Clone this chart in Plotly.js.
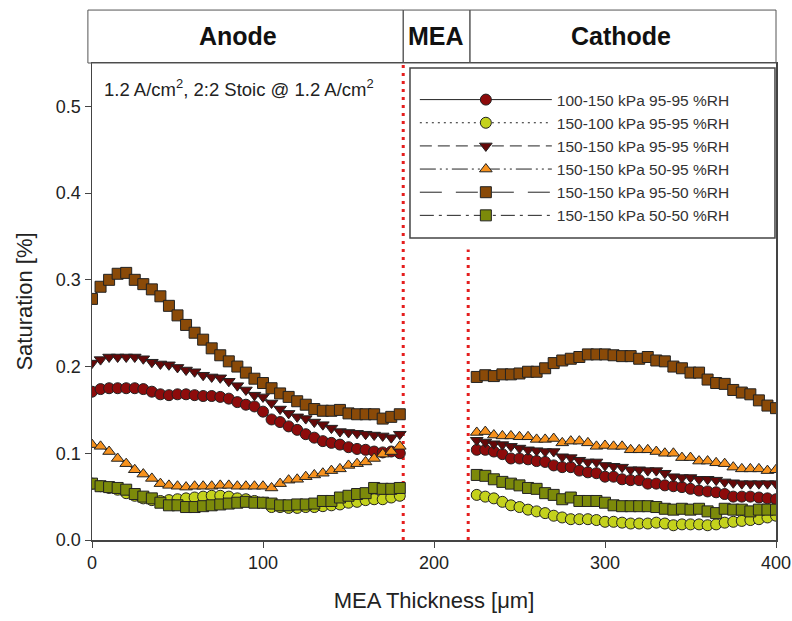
<!DOCTYPE html>
<html>
<head>
<meta charset="utf-8">
<script src="https://cdn.plot.ly/plotly-3.0.1.min.js"></script>
<style>html,body{margin:0;padding:0;background:#fff;}#chart{width:792px;height:621px;}</style>
</head>
<body>
<div id="chart"></div>
<script>
// Positions across the MEA (µm)
const anodeX = [0,5,10,15,20,25,30,35,40,45,50,55,60,65,70,75,80,85,90,95,100,105,110,115,120,125,130,135,140,145,150,155,160,165,170,175,180];
const cathodeX = [225,230,235,240,245,250,255,260,265,270,275,280,285,290,295,300,305,310,315,320,325,330,335,340,345,350,355,360,365,370,375,380,385,390,395,400];

const seriesNames = [
  "100-150 kPa 95-95 %RH",
  "150-100 kPa 95-95 %RH",
  "150-150 kPa 95-95 %RH",
  "150-150 kPa 50-95 %RH",
  "150-150 kPa 95-50 %RH",
  "150-150 kPa 50-50 %RH"
];

// 100-150 kPa 95-95 %RH
const s1Anode = [.171,.174,.175,.175,.175,.175,.174,.171,.168,.167,.168,.168,.167,.166,.166,.165,.163,.159,.156,.154,.148,.139,.136,.131,.127,.122,.118,.114,.112,.110,.107,.105,.104,.102,.101,.102,.100];
const s1Cathode = [.104,.104,.102,.099,.094,.094,.093,.091,.090,.086,.084,.084,.080,.078,.077,.073,.073,.070,.069,.069,.065,.065,.063,.062,.061,.059,.057,.056,.055,.053,.050,.050,.050,.049,.048,.047];
// 150-100 kPa 95-95 %RH
const s2Anode = [.065,.062,.060,.058,.054,.051,.048,.046,.045,.046,.047,.048,.049,.050,.051,.051,.050,.048,.047,.045,.043,.038,.038,.037,.037,.038,.038,.039,.040,.041,.043,.044,.046,.047,.047,.049,.051];
const s2Cathode = [.052,.050,.048,.044,.040,.038,.035,.033,.031,.028,.026,.024,.024,.024,.023,.021,.021,.020,.019,.019,.019,.020,.019,.017,.018,.018,.018,.017,.018,.020,.021,.022,.023,.024,.026,.028];
// 150-150 kPa 95-95 %RH
const s3Anode = [.204,.208,.211,.211,.211,.211,.209,.205,.203,.202,.199,.196,.194,.190,.188,.187,.183,.178,.173,.167,.165,.158,.151,.146,.142,.140,.136,.133,.129,.125,.124,.123,.122,.121,.120,.118,.122];
const s3Cathode = [.115,.113,.111,.110,.108,.106,.104,.103,.102,.102,.096,.095,.092,.090,.090,.086,.085,.084,.081,.081,.080,.080,.077,.073,.072,.072,.070,.070,.069,.067,.066,.065,.065,.065,.065,.065];
// 150-150 kPa 50-95 %RH
const s4Anode = [.110,.108,.102,.094,.088,.081,.076,.071,.065,.063,.062,.061,.062,.062,.062,.063,.063,.062,.062,.062,.062,.060,.065,.069,.070,.073,.075,.077,.080,.082,.086,.088,.090,.094,.099,.102,.108];
const s4Cathode = [.124,.125,.121,.120,.120,.119,.119,.116,.116,.117,.112,.114,.114,.112,.108,.109,.108,.108,.104,.104,.104,.102,.100,.100,.095,.095,.091,.091,.089,.088,.084,.082,.082,.082,.080,.081];
// 150-150 kPa 95-50 %RH
const s5Anode = [.278,.292,.300,.307,.308,.300,.295,.289,.281,.270,.259,.248,.239,.231,.221,.213,.206,.200,.193,.186,.181,.175,.169,.165,.160,.156,.151,.149,.149,.150,.146,.145,.145,.145,.140,.142,.145];
const s5Cathode = [.188,.190,.189,.191,.191,.192,.194,.194,.198,.204,.207,.209,.211,.214,.214,.214,.213,.212,.212,.209,.211,.207,.206,.200,.198,.193,.193,.185,.181,.180,.173,.170,.168,.161,.155,.152];
// 150-150 kPa 50-50 %RH
const s6Anode = [.065,.062,.061,.060,.058,.053,.050,.048,.043,.040,.040,.038,.038,.039,.040,.041,.042,.043,.044,.043,.043,.042,.040,.040,.041,.041,.042,.045,.045,.049,.051,.053,.054,.060,.059,.059,.060];
const s6Cathode = [.075,.074,.070,.067,.065,.063,.060,.059,.054,.052,.047,.049,.045,.045,.045,.043,.040,.039,.039,.039,.039,.038,.036,.035,.036,.035,.036,.033,.031,.036,.035,.035,.033,.035,.035,.035];

const anodeSets = [s1Anode, s2Anode, s3Anode, s4Anode, s5Anode, s6Anode];
const cathodeSets = [s1Cathode, s2Cathode, s3Cathode, s4Cathode, s5Cathode, s6Cathode];

const colors = ["#8E0B0B", "#C4D21C", "#650808", "#F7921E", "#8A4A08", "#7C8A0A"];
const symbols = ["circle", "circle", "triangle-down", "triangle-up", "square", "square"];
const dashes = ["solid", "2px,4px", "12px,6px", "16px,4px,2px,4px,2px,4px", "22px,14px", "14px,5px,3px,5px"];

const FONT = "Liberation Sans, Arial, sans-serif";

const traces = seriesNames.map((name, i) => ({
  type: "scatter",
  mode: "lines+markers",
  name: name,
  x: anodeX.concat([null], cathodeX),
  y: anodeSets[i].concat([null], cathodeSets[i]),
  connectgaps: false,
  line: {color: "#222", width: 1, dash: dashes[i]},
  marker: {symbol: symbols[i], size: 11, color: colors[i], line: {color: "#222", width: 1}}
}));

const layout = {
  width: 792, height: 621,
  margin: {l: 92, r: 16, t: 63, b: 81},
  paper_bgcolor: "#fff", plot_bgcolor: "#fff",
  font: {family: FONT, size: 18, color: "#222"},
  showlegend: true,
  legend: {
    x: 0.472, y: 0.958, xanchor: "left", yanchor: "top",
    bgcolor: "rgba(0,0,0,0)", borderwidth: 0,
    font: {family: FONT, size: 15.5, color: "#333"},
    itemwidth: 132, tracegroupgap: 0
  },
  xaxis: {
    range: [0, 400], tickvals: [0, 100, 200, 300, 400],
    ticks: "outside", ticklen: 6, tickcolor: "#444",
    showline: true, linecolor: "#444", linewidth: 1.5, mirror: true,
    showgrid: false, zeroline: false, automargin: "height",
    tickfont: {family: FONT, size: 18, color: "#222"},
    title: {text: "MEA Thickness [μm]", font: {family: FONT, size: 22, color: "#222"}, standoff: 20}
  },
  yaxis: {
    range: [0, 0.55], dtick: 0.1, tick0: 0, tickformat: ".1f",
    ticks: "outside", ticklen: 6, tickcolor: "#444",
    showline: true, linecolor: "#444", linewidth: 1.5, mirror: true,
    showgrid: false, zeroline: false, automargin: "width",
    tickfont: {family: FONT, size: 18, color: "#222"},
    title: {text: "Saturation [%]", font: {family: FONT, size: 22, color: "#222"}, standoff: 17}
  },
  shapes: [
    {type: "line", xref: "x", yref: "paper", x0: 182, x1: 182, y0: 0, y1: 1,
     line: {color: "#E41E1E", width: 3, dash: "3px,5px"}, layer: "below"},
    {type: "line", xref: "x", yref: "y", x0: 220, x1: 220, y0: 0, y1: 0.335,
     line: {color: "#E41E1E", width: 3, dash: "3px,5px"}, layer: "below"},
    // legend frame
    {type: "rect", xref: "paper", yref: "paper", x0: 0.4649, x1: 0.9985, y0: 0.633, y1: 0.9895,
     line: {color: "#444", width: 1.5}, fillcolor: "#fff", layer: "above"},
    // header boxes
    {type: "rect", xref: "paper", yref: "paper", x0: -0.006, x1: 0.455, y0: 1, y1: 1.111,
     line: {color: "#555", width: 1}},
    {type: "rect", xref: "paper", yref: "paper", x0: 0.455, x1: 0.5525, y0: 1, y1: 1.111,
     line: {color: "#555", width: 1}},
    {type: "rect", xref: "paper", yref: "paper", x0: 0.5525, x1: 1, y0: 1, y1: 1.111,
     line: {color: "#555", width: 1}}
  ],
  annotations: [
    {xref: "paper", yref: "paper", x: 0.213, y: 1.056, xanchor: "center", yanchor: "middle",
     text: "<b>Anode</b>", showarrow: false, font: {family: FONT, size: 25, color: "#111"}},
    {xref: "paper", yref: "paper", x: 0.503, y: 1.056, xanchor: "center", yanchor: "middle",
     text: "<b>MEA</b>", showarrow: false, font: {family: FONT, size: 25, color: "#111"}},
    {xref: "paper", yref: "paper", x: 0.773, y: 1.056, xanchor: "center", yanchor: "middle",
     text: "<b>Cathode</b>", showarrow: false, font: {family: FONT, size: 25, color: "#111"}},
    {xref: "paper", yref: "paper", x: 0.015, y: 0.947, xanchor: "left", yanchor: "middle",
     text: "1.2 A/cm<sup>2</sup>, 2:2 Stoic @ 1.2 A/cm<sup>2</sup>", showarrow: false,
     font: {family: FONT, size: 18.5, color: "#222"}}
  ]
};

Plotly.newPlot("chart", traces, layout, {displayModeBar: false, staticPlot: true});
</script>
</body>
</html>
